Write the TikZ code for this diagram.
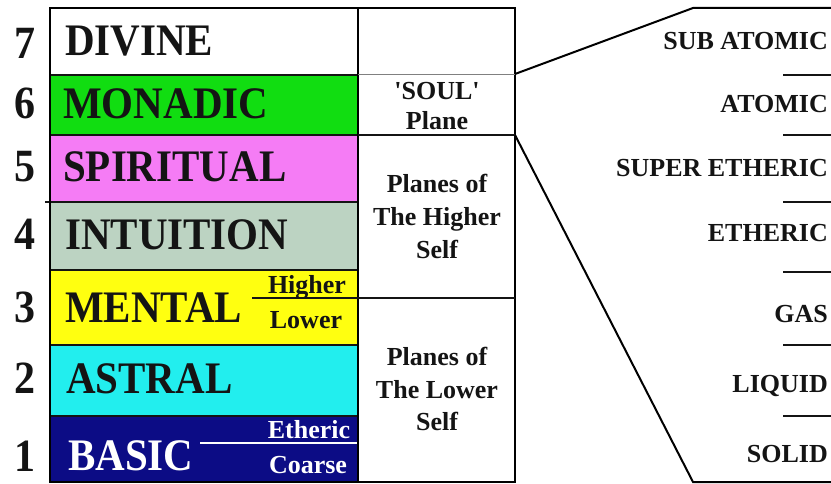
\documentclass[tikz,border=0pt]{standalone}
\usepackage{fontspec}
\setmainfont{Liberation Serif}
\usepackage{graphicx}
\definecolor{monadc}{HTML}{11DD11}
\definecolor{spiritc}{HTML}{F57CF5}
\definecolor{intuc}{HTML}{BCD3C2}
\definecolor{mentc}{HTML}{FFFF10}
\definecolor{astrc}{HTML}{22EEEE}
\definecolor{basicc}{HTML}{0C0C85}
\definecolor{inkc}{HTML}{141414}
\newcommand{\tallx}[1]{\scalebox{1}[1.1]{#1}}
\newcommand{\stackx}[1]{\begin{tabular}[t]{@{}c@{}}#1\end{tabular}}
\begin{document}
\begin{tikzpicture}[x=1pt,y=-1pt,
  big/.style={font=\fontsize{41}{41}\selectfont\bfseries, inner sep=0pt, anchor=base west, text=inkc},
  num/.style={font=\fontsize{42}{42}\selectfont\bfseries, inner sep=0pt, anchor=base, text=inkc},
  small/.style={font=\fontsize{26}{33}\selectfont\bfseries, inner sep=0pt, anchor=base, text=inkc},
  rtext/.style={small, anchor=base east},
  rowsep/.style={draw=inkc, line width=1.6pt},
  frame/.style={draw=black, line width=2pt},
  tick/.style={draw=inkc, line width=1.6pt}]
\useasboundingbox (0,0) rectangle (831,484);
% row fills
\fill[white]   (50,8)   rectangle (358,75);
\fill[monadc]  (50,75)  rectangle (358,135);
\fill[spiritc] (50,135) rectangle (358,202);
\fill[intuc]   (50,202) rectangle (358,270);
\fill[mentc]   (50,270) rectangle (358,345);
\fill[astrc]   (50,345) rectangle (358,416);
\fill[basicc]  (50,416) rectangle (358,482);
% row separators
\foreach \yy in {75,135,202,270,345,416} \draw[rowsep] (50,\yy) -- (358,\yy);
\draw[rowsep] (45,202) -- (50,202);
% frame and column divider
\draw[frame] (50,8) rectangle (515,482);
\draw[frame] (358,8) -- (358,482);
% middle column separators
\draw[draw=gray, line width=0.9pt] (358,74) -- (515,74);
\draw[rowsep] (358,135) -- (515,135);
\draw[draw=inkc, line width=1.2pt] (252,298) -- (515,298);
\draw[draw=white, line width=1.5pt] (200,443) -- (357,443);
% expansion lines
\coordinate (soulTop) at (515,74);
\coordinate (soulBot) at (515,135);
\coordinate (kneeTop) at (693,8);
\coordinate (kneeBot) at (693,482);
\coordinate (endTop) at (831,8);
\coordinate (endBot) at (831,482);
\draw[frame] (soulTop) -- (kneeTop) -- (endTop);
\draw[frame] (soulBot) -- (kneeBot) -- (endBot);
\foreach \yy in {75,135,202,272,345,416} \draw[tick] (783,\yy) -- (831,\yy);
% numbers
\node[num] (n7) at (25,59)  {\tallx{7}};
\node[num] (n6) at (25,119) {\tallx{6}};
\node[num] (n5) at (25,182) {\tallx{5}};
\node[num] (n4) at (25,250) {\tallx{4}};
\node[num] (n3) at (25,323) {\tallx{3}};
\node[num] (n2) at (25,393) {\tallx{2}};
\node[num] (n1) at (25,471) {\tallx{1}};
% plane names
\node[big] (divine) at (65,56)  {\tallx{DIVINE}};
\node[big] (monadic) at (63,119) {\tallx{MONADIC}};
\node[big] (spiritual) at (63,182) {\tallx{SPIRITUAL}};
\node[big] (intuition) at (65,250) {\tallx{INTUITION}};
\node[big] (mental) at (65,323) {\tallx{MENTAL}};
\node[big] (astral) at (66,393) {\tallx{ASTRAL}};
\node[big, text=white] (basic) at (68,470) {\tallx{BASIC}};
% sub-divisions
\node[small] (higher) at (307,293) {Higher};
\node[small] (lower) at (306,328) {Lower};
\node[small, text=white] (etheric) at (309,438) {Etheric};
\node[small, text=white] (coarse) at (308,473) {Coarse};
% middle column
\node[small] (soul) at (437,100) {\fontsize{26}{30}\selectfont\stackx{\textquotesingle SOUL\textquotesingle\\Plane}};
\node[small] (highself) at (437,193) {\stackx{Planes of\\The Higher\\Self}};
\node[small] (lowself) at (437,365) {\stackx{Planes of\\The Lower\\Self}};
% right column
\node[rtext] (subatomic) at (828,50) {SUB ATOMIC};
\node[rtext] (atomic) at (828,113) {ATOMIC};
\node[rtext] (superetheric) at (828,177) {SUPER ETHERIC};
\node[rtext] (rethheric) at (828,242) {ETHERIC};
\node[rtext] (gas) at (828,322) {GAS};
\node[rtext] (liquid) at (828,392) {LIQUID};
\node[rtext] (solid) at (828,462) {SOLID};
\end{tikzpicture}
\end{document}
